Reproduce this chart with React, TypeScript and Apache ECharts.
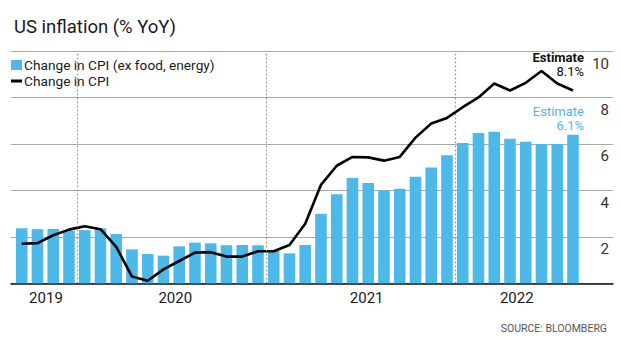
import React, { useEffect, useRef } from "react";
import * as echarts from "echarts";

// Months Sep 2019 .. Aug 2022 (index 0..35)
const months = [
  "2019-09","2019-10","2019-11","2019-12",
  "2020-01","2020-02","2020-03","2020-04","2020-05","2020-06","2020-07","2020-08","2020-09","2020-10","2020-11","2020-12",
  "2021-01","2021-02","2021-03","2021-04","2021-05","2021-06","2021-07","2021-08","2021-09","2021-10","2021-11","2021-12",
  "2022-01","2022-02","2022-03","2022-04","2022-05","2022-06","2022-07","2022-08",
];

const coreCPI = [
  2.37, 2.33, 2.34, 2.27,
  2.29, 2.37, 2.12, 1.46, 1.26, 1.19, 1.59, 1.75, 1.72, 1.64, 1.65, 1.64,
  1.39, 1.29, 1.65, 2.99, 3.83, 4.53, 4.32, 4.0, 4.07, 4.59, 4.98, 5.51,
  6.04, 6.47, 6.52, 6.22, 6.09, 6.0, 6.0, 6.4,
];

const headlineCPI = [
  1.7, 1.73, 2.07, 2.31,
  2.46, 2.33, 1.57, 0.29, 0.11, 0.6, 0.96, 1.32, 1.34, 1.15, 1.15, 1.38,
  1.38, 1.65, 2.56, 4.24, 5.06, 5.44, 5.42, 5.28, 5.44, 6.27, 6.88, 7.12,
  7.58, 8.0, 8.6, 8.3, 8.63, 9.14, 8.6, 8.3,
];

const yearLabels = ["2019", "2020", "2021", "2022"];
const yearLabelPos = [1.54, 9.75, 21.9, 31.43];
const yearBoundaries = [3.5, 15.5, 27.5];

const coreEstimate = "6.1%";
const headlineEstimate = "8.1%";

const BLUE = "#4cb9e9";
const FONT = "Roboto";

export default function App() {
  const ref = useRef<HTMLDivElement>(null);

  useEffect(() => {
    document.body.style.margin = "0";
    const chart = echarts.init(ref.current!, null, { renderer: "svg" });
    const last = months.length - 1;

    const option: any = {
      animation: false,
      backgroundColor: "#ffffff",
      textStyle: { fontFamily: FONT },
      title: [
        {
          text: "US inflation (% YoY)",
          left: 9,
          top: 12,
          textStyle: { fontFamily: FONT, fontSize: 18.5, fontWeight: "normal", color: "#1a1a1a" },
        },
        {
          text: "SOURCE: BLOOMBERG",
          right: 8,
          top: 318,
          textStyle: { fontFamily: FONT, fontSize: 10.5, fontWeight: "normal", color: "#555" },
        },
      ],
      legend: {
        orient: "vertical",
        left: 11,
        top: 58,
        itemWidth: 11,
        itemHeight: 10,
        itemGap: 2,
        padding: 0,
        symbolKeepAspect: true,
        textStyle: { fontFamily: FONT, fontSize: 13.7, color: "#1a1a1a", padding: [0, 0, 0, -3] },
        data: [
          { name: "Change in CPI (ex food, energy)", icon: "rect" },
          {
            name: "Change in CPI",
            icon: "path://M0,0 L11,0 L11,3 L0,3 Z",
            itemStyle: { color: "#000" },
          },
        ],
      },
      grid: { left: 11, right: 7, top: 51, bottom: 54.7, containLabel: false },
      xAxis: {
        type: "value",
        min: -0.68,
        max: 37.54,
        splitLine: { show: false },
        axisTick: { show: false },
        axisLine: { show: true, onZero: true, lineStyle: { color: "#111", width: 1.5 } },
        axisLabel: {
          customValues: yearLabelPos,
          margin: 7,
          fontFamily: FONT,
          fontSize: 15,
          color: "#1a1a1a",
          formatter: (v: number) => {
            const i = yearLabelPos.findIndex((p) => Math.abs(p - v) < 0.01);
            return i >= 0 ? yearLabels[i] : "";
          },
        },
      },
      yAxis: {
        type: "value",
        position: "right",
        min: 0,
        max: 10,
        interval: 2,
        axisLine: { show: false },
        axisTick: { show: false },
        splitLine: { show: true, lineStyle: { color: "#a8a8a8", width: 1.2 } },
        axisLabel: {
          inside: true,
          margin: 4,
          fontFamily: FONT,
          fontSize: 15,
          color: "#333",
          verticalAlign: "top",
          padding: [5, 0, 0, 0],
          formatter: (v: number) => (v === 0 ? "" : String(v)),
        },
      },
      series: [
        {
          name: "Change in CPI (ex food, energy)",
          type: "bar",
          barWidth: 11.6,
          itemStyle: { color: BLUE },
          data: coreCPI.map((v, i) => [i, v]),
          markLine: {
            silent: true,
            symbol: ["none", "none"],
            label: { show: false },
            lineStyle: { type: [1.5, 2.5], color: "#888", width: 1.2 },
            data: yearBoundaries.map((x) => ({ xAxis: x })),
          },
          markPoint: {
            symbol: "circle",
            symbolSize: 1,
            itemStyle: { color: "rgba(0,0,0,0)" },
            data: [
              {
                coord: [last, coreCPI[last]],
                label: {
                  show: true,
                  position: [11.5, -2],
                  align: "right",
                  verticalAlign: "bottom",
                  formatter: "{a|Estimate}\n{a|" + coreEstimate + "}",
                  rich: {
                    a: { fontFamily: FONT, fontSize: 13, color: BLUE, lineHeight: 13.5, align: "right" },
                  },
                },
              },
            ],
          },
          z: 2,
        },
        {
          name: "Change in CPI",
          type: "line",
          symbol: "none",
          lineStyle: { color: "#000", width: 2.6 },
          itemStyle: { color: "#000" },
          data: headlineCPI.map((v, i) => [i, v]),
          markPoint: {
            symbol: "circle",
            symbolSize: 1,
            itemStyle: { color: "rgba(0,0,0,0)" },
            data: [
              {
                coord: [last, headlineCPI[last]],
                label: {
                  show: true,
                  position: [11.5, -12],
                  align: "right",
                  verticalAlign: "bottom",
                  formatter: "{b|Estimate}\n{a|" + headlineEstimate + "}",
                  rich: {
                    b: { fontFamily: FONT, fontSize: 13, fontWeight: "bold", color: "#111", lineHeight: 13.5, align: "right" },
                    a: { fontFamily: FONT, fontSize: 13, fontWeight: "normal", color: "#111", lineHeight: 13.5, align: "right" },
                  },
                },
              },
            ],
          },
          z: 3,
        },
      ],
    };

    chart.setOption(option);
    return () => chart.dispose();
  }, []);

  return (
    <div
      ref={ref}
      style={{ position: "fixed", left: 0, top: 0, width: 620, height: 338 }}
    />
  );
}
